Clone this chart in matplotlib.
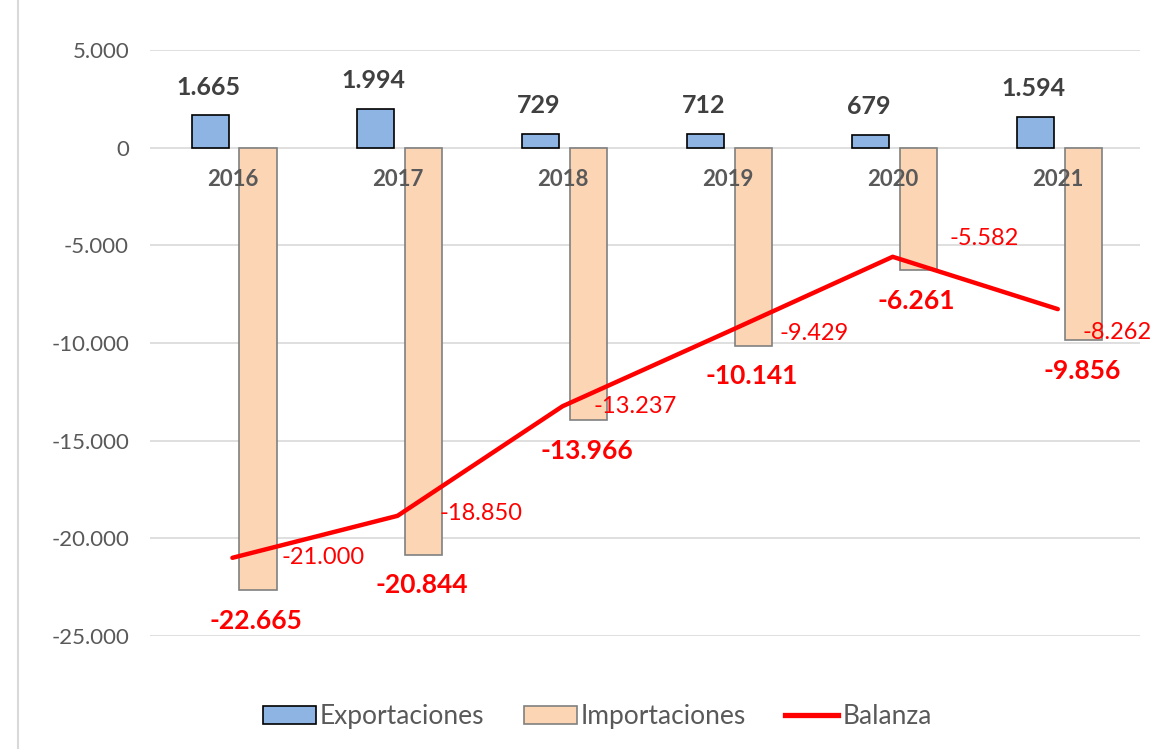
import matplotlib.pyplot as plt
from matplotlib.patches import Rectangle, Patch
from matplotlib.lines import Line2D
import numpy as np

plt.rcParams['font.family'] = ['Lato', 'DejaVu Sans']

years = ['2016', '2017', '2018', '2019', '2020', '2021']
exportaciones = [1665, 1994, 729, 712, 679, 1594]
importaciones = [-22665, -20844, -13966, -10141, -6261, -9856]
balanza = [-21000, -18850, -13237, -9429, -5582, -8262]

exp_labels = ['1.665', '1.994', '729', '712', '679', '1.594']
imp_labels = ['-22.665', '-20.844', '-13.966', '-10.141', '-6.261', '-9.856']
bal_labels = ['-21.000', '-18.850', '-13.237', '-9.429', '-5.582', '-8.262']
yticks = [5000, 0, -5000, -10000, -15000, -20000, -25000]
ytick_labels = ['5.000', '0', '-5.000', '-10.000', '-15.000', '-20.000', '-25.000']

# label offsets in points (hand placed like the original)
bal_off = [(35, 0), (30, 2), (22, 0), (37, -1), (41, 13), (18, -17)]

fig = plt.figure(figsize=(11.53, 7.49), dpi=100)
ax = fig.add_axes([0.130, 0.151, 0.859, 0.782])

x = np.arange(len(years))
w = 0.225
off = 0.145
ax.bar(x - off + 0.01, exportaciones, w, color='#8EB4E3', edgecolor='black', linewidth=1.2, zorder=3)
ax.bar(x + off + 0.01, importaciones, w, color='#FCD5B5', edgecolor='#808080', linewidth=1.2, zorder=3)
ax.plot(x, balanza, color='#FF0000', linewidth=3.2, zorder=4, solid_capstyle='round')

for i in range(len(years)):
    ax.annotate(exp_labels[i], (x[i] - off, exportaciones[i]), xytext=(0, 12), textcoords='offset points',
                ha='center', va='bottom', fontsize=18, fontweight='bold', color='#404040')
    ax.annotate(imp_labels[i], (x[i] + off, importaciones[i]), xytext=(0, -22), textcoords='offset points',
                ha='center', va='center', fontsize=19, fontweight='bold', color='#FF0000')
    ax.annotate(bal_labels[i], (x[i], balanza[i]), xytext=bal_off[i], textcoords='offset points',
                ha='left', va='center', fontsize=17, color='#FF0000')
    ax.annotate(years[i], (x[i], 0), xytext=(0, -23), textcoords='offset points',
                ha='center', va='center', fontsize=16, fontweight='bold', color='#595959')

ax.set_xlim(-0.5, len(years) - 0.5)
ax.set_ylim(-25000, 5000)
ax.set_yticks(yticks)
ax.set_yticklabels(ytick_labels)
ax.set_xticks([])
ax.tick_params(axis='y', length=0, pad=15, labelsize=16, labelcolor='#595959')
ax.grid(axis='y', color='#D9D9D9', linewidth=1.2, zorder=0)
for s in ax.spines.values():
    s.set_visible(False)

handles = [Patch(facecolor='#8EB4E3', edgecolor='black', linewidth=1.2),
           Patch(facecolor='#FCD5B5', edgecolor='#808080', linewidth=1.2),
           Line2D([0], [0], color='#FF0000', linewidth=3.8)]
fig.legend(handles, ['Exportaciones', 'Importaciones', 'Balanza'], loc='center', bbox_to_anchor=(0.518, 0.043),
           ncol=3, frameon=False, fontsize=19, handlelength=2.0, handletextpad=0.15, columnspacing=1.5,
           labelcolor='#595959')

# chart area border
fig.patches.append(Rectangle((18 / 1153, -0.01), 1.2, 1.2, transform=fig.transFigure, fill=False,
                             edgecolor='#D9D9D9', linewidth=1.5))

fig.savefig('out.png', dpi=100)
